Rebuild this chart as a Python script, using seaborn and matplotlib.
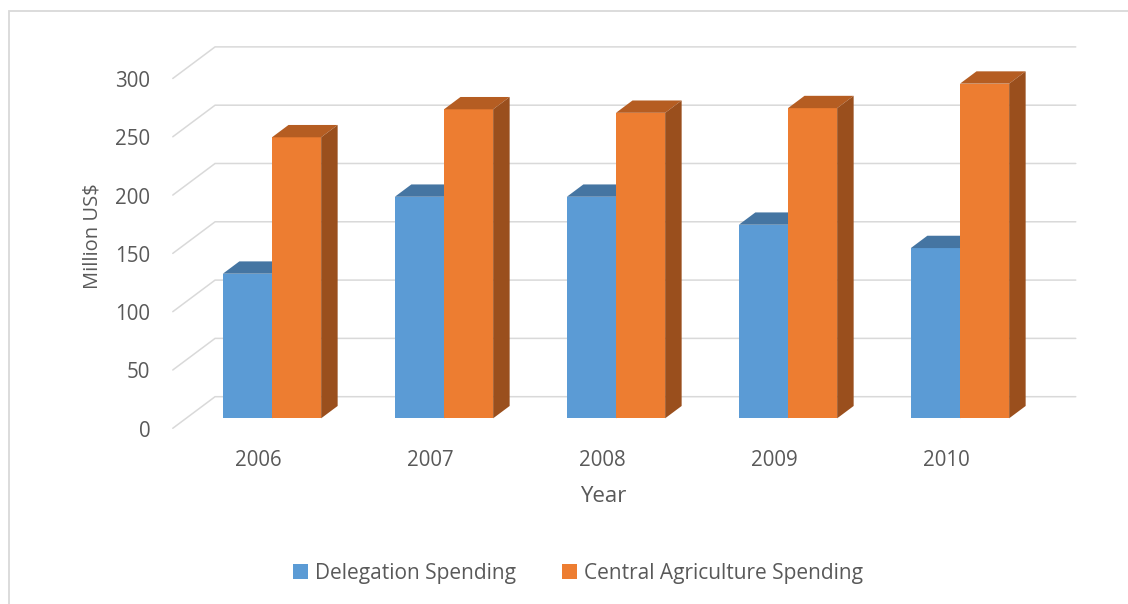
import matplotlib
matplotlib.use("Agg")
import matplotlib.pyplot as plt
from matplotlib.patches import Polygon, Rectangle
import seaborn as sns
import pandas as pd

# ---- data -------------------------------------------------------------
years = ["2006", "2007", "2008", "2009", "2010"]
delegation = [124, 190, 190, 166, 146]
central = [241, 265, 262, 266, 287]
series_names = ["Delegation Spending", "Central Agriculture Spending"]
y_ticks = [0, 50, 100, 150, 200, 250, 300]

# ---- style ------------------------------------------------------------
sns.set_style("white")
plt.rcParams["font.family"] = ["Open Sans", "DejaVu Sans"]
TEXT = "#595959"
GRID = "#D9D9D9"
TICK_FONT = 14.8
LEGEND_FONT = 15
XTITLE_FONT = 16
YTITLE_FONT = 14.5

front_colors = {"Delegation Spending": "#5B9BD5",
                "Central Agriculture Spending": "#ED7D31"}
top_colors = ["#4575A2", "#B55D22"]
side_colors = ["#3E6B96", "#9A4F1D"]

# ---- geometry of the pseudo-3D box (data units) -----------------------
PX_PER_CAT = 172.0         # pixels per category step
PX_PER_UNIT = 1.166        # pixels per million US$
WALL_DX = 42.3 / PX_PER_CAT      # full depth of the plot box, x
WALL_DY = 31.6 / PX_PER_UNIT     # full depth of the plot box, y
BAR_FRONT = 0.316                # depth where the bar fronts sit
BAR_DEPTH = 0.39                 # depth of each bar
BAR_DX = BAR_DEPTH * WALL_DX
BAR_DY = BAR_DEPTH * WALL_DY
LEFT_BACK_X = -0.331             # x of the left wall's back edge
RIGHT_BACK_X = 4.673             # x where the back-wall grid ends

df = pd.DataFrame({
    "Year": years * 2,
    "Spending": delegation + central,
    "Series": [series_names[0]] * len(years) + [series_names[1]] * len(years),
})

fig = plt.figure(figsize=(11.28, 6.04), dpi=100)
W, H = 1128, 604
ax_left, ax_right, ax_top, ax_bottom = 150, 1100, 25, 450
ax = fig.add_axes([ax_left / W, 1 - ax_bottom / H,
                   (ax_right - ax_left) / W, (ax_bottom - ax_top) / H])

sns.barplot(data=df, x="Year", y="Spending", hue="Series",
            palette=front_colors, width=0.5715, dodge=True,
            saturation=1, linewidth=0, ax=ax, legend=False)

x0_px, zero_px = 272.0, 418.3
ax.set_xlim((ax_left - x0_px) / PX_PER_CAT, (ax_right - x0_px) / PX_PER_CAT)
ax.set_ylim((zero_px - ax_bottom) / PX_PER_UNIT, (zero_px - ax_top) / PX_PER_UNIT)
for s in ax.spines.values():
    s.set_visible(False)
ax.set_xticks([])
ax.set_yticks([])
ax.set_xlabel("")
ax.set_ylabel("")
ax.patch.set_alpha(0)

# ---- gridlines on the left wall and back wall -------------------------
front_dx = -BAR_FRONT * WALL_DX
front_dy = -BAR_FRONT * WALL_DY
back_dy = (1 - BAR_FRONT) * WALL_DY
for v in y_ticks:
    ax.plot([LEFT_BACK_X - WALL_DX, LEFT_BACK_X, RIGHT_BACK_X],
            [v + front_dy, v + back_dy, v + back_dy],
            color=GRID, lw=1.1, zorder=1, clip_on=False,
            solid_joinstyle="miter")
    ax.text(LEFT_BACK_X - WALL_DX - 0.13, v + front_dy - 2.5, str(v),
            ha="right", va="center", color=TEXT, fontsize=TICK_FONT,
            clip_on=False)

# ---- bars: front faces from seaborn, then top and side faces ----------
for k, container in enumerate(ax.containers):
    for bar in container:
        z = 3 + 2 * k
        bar.set_zorder(z)
        x = bar.get_x()
        w = bar.get_width()
        h = bar.get_height()
        top = Polygon([(x, h), (x + w, h), (x + w + BAR_DX, h + BAR_DY),
                       (x + BAR_DX, h + BAR_DY)], closed=True,
                      facecolor=top_colors[k], edgecolor="none", zorder=z + 0.5)
        side = Polygon([(x + w, 0), (x + w + BAR_DX, BAR_DY),
                        (x + w + BAR_DX, h + BAR_DY), (x + w, h)], closed=True,
                       facecolor=side_colors[k], edgecolor="none", zorder=z + 0.5)
        ax.add_patch(top)
        ax.add_patch(side)

# ---- category labels on the front plane -------------------------------
for i, yr in enumerate(years):
    ax.text(i + front_dx, (zero_px - 461) / PX_PER_UNIT, yr, ha="center",
            va="center", color=TEXT, fontsize=TICK_FONT, clip_on=False)

fig.text(603 / W, 1 - 496 / H, "Year", ha="center", va="center",
         color=TEXT, fontsize=XTITLE_FONT)
fig.text(92 / W, 1 - 236 / H, "Million US$", ha="center", va="center",
         rotation=90, color=TEXT, fontsize=YTITLE_FONT)

# ---- legend -----------------------------------------------------------
handles = [Rectangle((0, 0), 1, 1, facecolor=front_colors[n], edgecolor="none")
           for n in series_names]
fig.legend(handles, series_names, loc="center", ncol=2, frameon=False,
           bbox_to_anchor=(578 / W, 1 - 573 / H), fontsize=LEGEND_FONT,
           handlelength=0.7, handleheight=0.7, handletextpad=0.35,
           columnspacing=2.2, labelcolor=TEXT)

# ---- chart-area border ------------------------------------------------
fig.patches.append(Rectangle((8.7 / W, -0.1), 1.2, 1 - 10.7 / H + 0.1,
                             transform=fig.transFigure, fill=False,
                             edgecolor=GRID, lw=1.3))

fig.savefig("out.png", dpi=100, facecolor="white")
